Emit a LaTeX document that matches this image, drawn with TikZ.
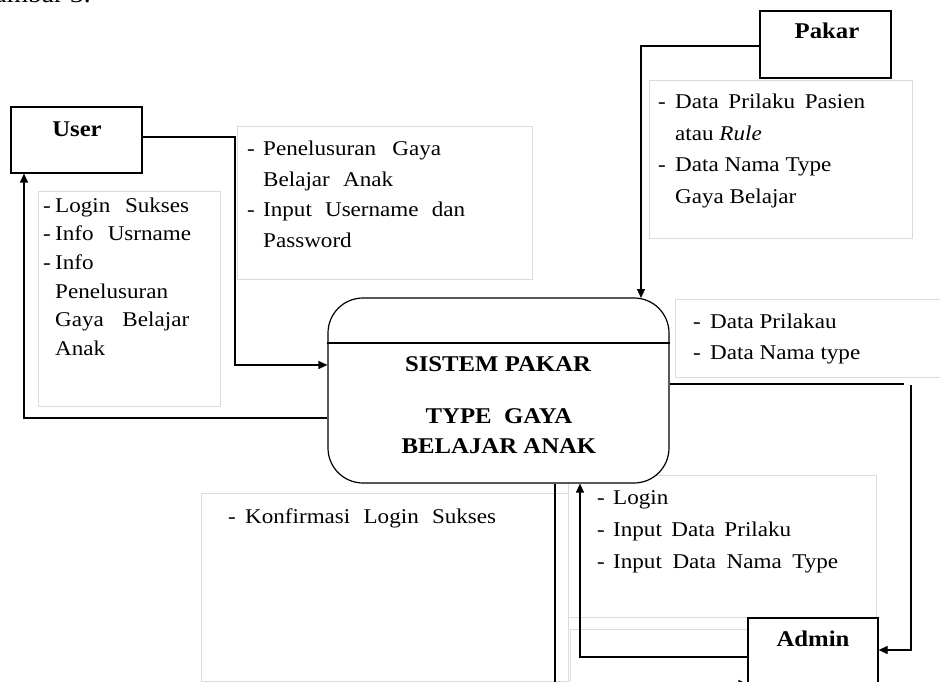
\documentclass[tikz,border=0pt]{standalone}
\usepackage{fontspec}
\setmainfont{Liberation Serif}[FakeStretch=1.1]
\usetikzlibrary{arrows.meta}
\newcommand\bul[1]{\makebox[#1pt][l]{-}}
\newcommand\ind[1]{\hspace*{#1pt}}
\newcommand\strline[2]{\makebox[#1pt][s]{#2}}
\begin{document}
\begin{tikzpicture}[x=1pt,y=-1pt,
  ent/.style={draw, line width=1.2pt, fill=white, inner sep=0pt},
  enttext/.style={font=\fontsize{22.5}{27}\selectfont\bfseries, inner sep=0pt, anchor=base},
  gbox/.style={draw=black!14, line width=0.8pt, fill=white},
  lst/.style={font=\fontsize{21}{#1}\selectfont, inner sep=0pt, anchor=base west},
  flow/.style={line width=1.2pt},
  arr/.style={flow, -{Triangle[length=9pt,width=8pt]}}]
\useasboundingbox (0,0) rectangle (940,682);

% caption cut at top
\node[font=\fontsize{25}{30}\selectfont, inner sep=0pt, anchor=base east] (cap) at (91,3) {Gambar 3.};

% text boxes
\draw[gbox] (38,191) rectangle (220,406);
\node[lst=28.7] (tUser) at (43,212) {\begin{tabular}[t]{@{}l@{}}
\bul{12}\strline{134}{Login Sukses}\\
\bul{12}\strline{136}{Info Usrname}\\
\bul{12}Info\\
\ind{12}Penelusuran\\
\ind{12}\strline{134}{Gaya Belajar}\\
\ind{12}Anak
\end{tabular}};

\draw[gbox] (237,126) rectangle (532,279);
\node[lst=30.5] (tPen) at (247,156) {\begin{tabular}[t]{@{}l@{}}
\bul{16}\strline{178}{Penelusuran Gaya}\\
\ind{16}\strline{130}{Belajar Anak}\\
\bul{16}\strline{202}{Input Username dan}\\
\ind{16}Password
\end{tabular}};

\draw[gbox] (649,80) rectangle (912,238);
\node[lst=31.5] (tPak) at (658,109) {\begin{tabular}[t]{@{}l@{}}
\bul{17}\strline{190}{Data Prilaku Pasien}\\
\ind{17}atau \textit{Rule}\\
\bul{17}Data Nama Type\\
\ind{17}Gaya Belajar
\end{tabular}};

\draw[gbox] (675,299) rectangle (945,377);
\node[lst=31] (tDat) at (693,328) {\begin{tabular}[t]{@{}l@{}}
\bul{17}Data Prilakau\\
\bul{17}Data Nama type
\end{tabular}};

\draw[gbox] (568,475) rectangle (876,617);
\draw[gbox] (201,493) rectangle (568,681);
\draw[gbox] (570,629) rectangle (760,700);
\node[lst=32] (tLog) at (597,504) {\begin{tabular}[t]{@{}l@{}}
\bul{16}Login\\
\bul{16}\strline{178}{Input Data Prilaku}\\
\bul{16}\strline{225}{Input Data Nama Type}
\end{tabular}};
\node[lst=30] (tKon) at (228,523) {\bul{17}\strline{251}{Konfirmasi Login Sukses}};

% entities and process
\node[ent, minimum width=131pt, minimum height=66pt] (user) at (76.5,140) {};
\node[enttext] (userT) at (77,137) {User};
\node[ent, minimum width=131pt, minimum height=67pt] (pakar) at (825.5,44.5) {};
\node[enttext] (pakarT) at (827,39) {Pakar};
\node[ent, minimum width=130pt, minimum height=82pt] (admin) at (813,659) {};
\node[enttext] (adminT) at (813,646) {Admin};
\node[ent, rounded corners=35pt, minimum width=341pt, minimum height=185pt] (sys) at (498.5,390.5) {};
\draw[flow] (sys.west |- 0,343) -- (sys.east |- 0,343);
\node[enttext] (s1) at (498,371) {SISTEM PAKAR};
\node[enttext] (s2) at (499,423) {TYPE\ \ GAYA};
\node[enttext] (s3) at (499,453) {BELAJAR ANAK};

% flows
\coordinate (uTurn) at (235,365);
\draw[arr] ([yshift=3pt]user.east) -| (uTurn) -- (sys.west |- uTurn);
\coordinate (uBack) at (24,418);
\draw[arr] (sys.west |- uBack) -- (uBack) -- (uBack |- user.south);
\coordinate (pTurn) at (641,298);
\draw[arr] ([yshift=-1.5pt]pakar.west) -| (pTurn);
\coordinate (rA) at (904,384);
\coordinate (rB) at (911,385);
\draw[flow] (sys.east |- rA) -- (rA);
\draw[arr] (rB) |- (admin.east |- 0,650);
\coordinate (aT) at (580,657);
\draw[arr] (admin.west |- aT) -| (sys.south -| aT);
\coordinate (bT) at (555,684);
\draw[arr] (sys.south -| bT) |- (admin.west |- bT);
\end{tikzpicture}
\end{document}
